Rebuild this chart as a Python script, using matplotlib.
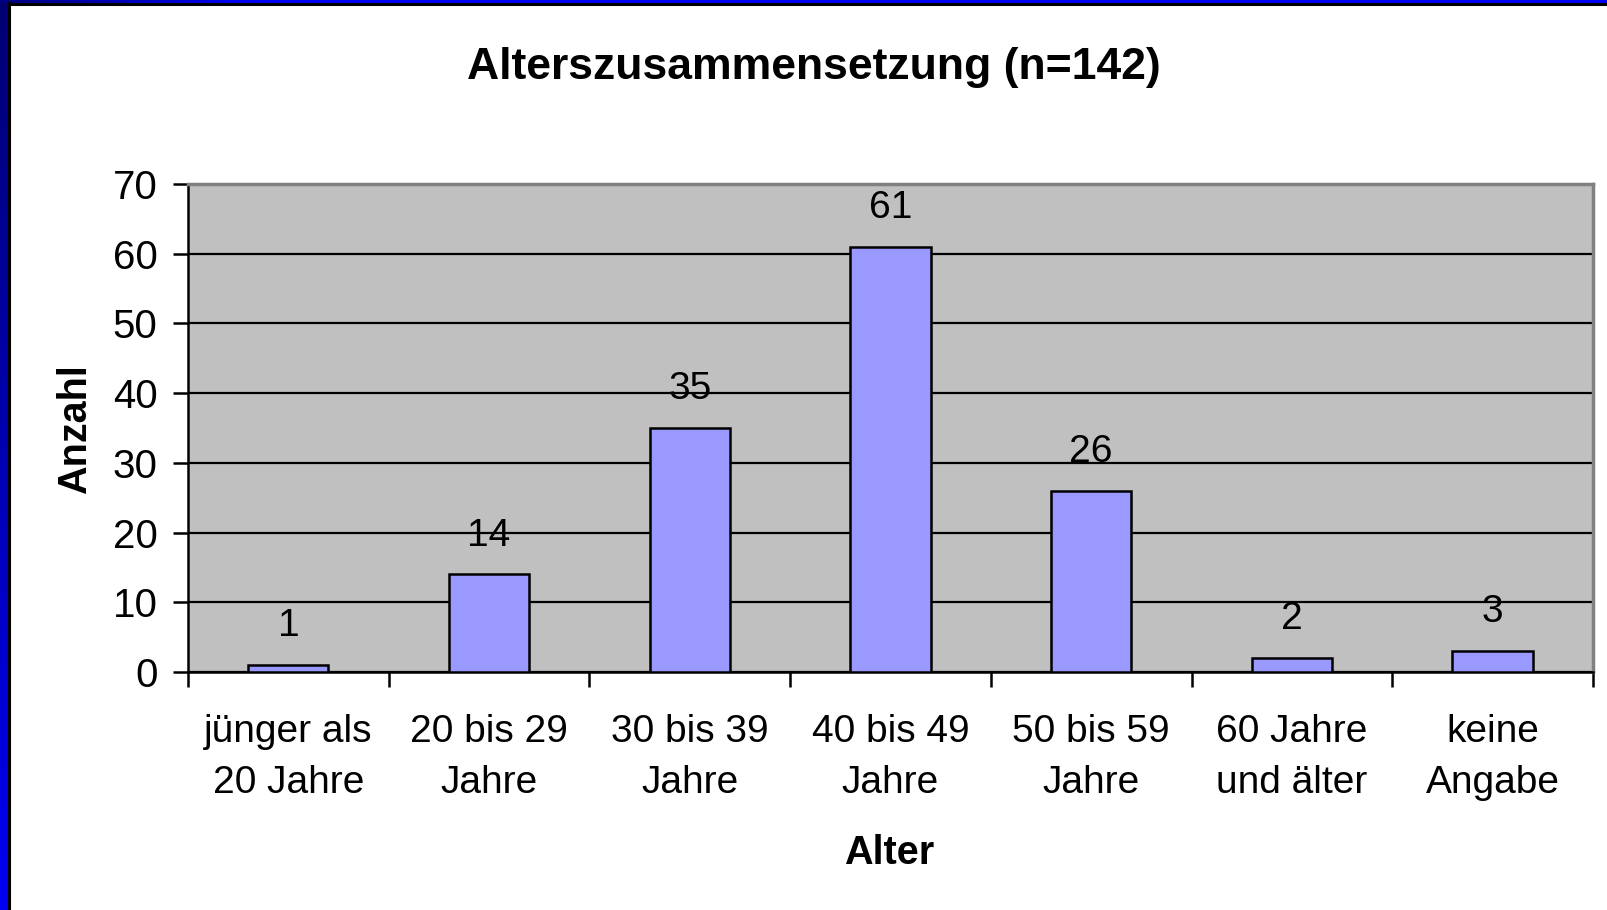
import numpy as np
import matplotlib.pyplot as plt

# Daten
kategorien = ['jünger als\n20 Jahre', '20 bis 29\nJahre', '30 bis 39\nJahre',
              '40 bis 49\nJahre', '50 bis 59\nJahre', '60 Jahre\nund älter',
              'keine\nAngabe']
anzahl = [1, 14, 35, 61, 26, 2, 3]
y_ticks = [0, 10, 20, 30, 40, 50, 60, 70]

plt.rcParams['font.family'] = ['Liberation Sans', 'DejaVu Sans']

W, H = 1608, 910
fig = plt.figure(figsize=(W / 100, H / 100), dpi=100)
fig.patch.set_facecolor('white')

# blauer Folienrahmen (links und oben)
links = fig.add_axes([0, 0, 8 / W, 1])
verlauf = np.linspace(0, 1, 256).reshape(-1, 1)
farben = np.zeros((256, 1, 3))
farben[..., 2] = 0.45 + 0.5 * verlauf
links.imshow(farben, aspect='auto', origin='upper', interpolation='bilinear')
links.axis('off')
oben = fig.add_axes([0, 1 - 3 / H, 1, 3 / H])
farben_o = np.zeros((1, 256, 3))
farben_o[..., 2] = np.clip(0.5 + 3 * np.linspace(0, 1, 256), 0, 0.95)
oben.imshow(farben_o, aspect='auto', interpolation='bilinear')
oben.axis('off')
fig.add_artist(plt.Line2D([8.5 / W, 8.5 / W], [0, 1 - 3 / H], color='black', lw=2.2,
                          transform=fig.transFigure))
fig.add_artist(plt.Line2D([8.5 / W, 1], [1 - 4 / H, 1 - 4 / H], color='black', lw=2.2,
                          transform=fig.transFigure))

ax = fig.add_axes([188 / W, (H - 672) / H, 1405 / W, 488 / H])
ax.set_facecolor('#C0C0C0')

x = np.arange(len(anzahl))
ax.bar(x, anzahl, width=0.4, color='#9999FF', edgecolor='black', linewidth=1.8, zorder=3)

for xi, v in zip(x, anzahl):
    ax.annotate(str(v), (xi, v), xytext=(0, 28), textcoords='offset points',
                ha='center', va='center', fontsize=28, zorder=4)

ax.set_xlim(-0.5, len(anzahl) - 0.5)
ax.set_ylim(0, 70)
ax.set_yticks(y_ticks)
ax.yaxis.grid(True, color='black', linewidth=1.6, zorder=1)
ax.set_axisbelow(True)

ax.set_xticks(x)
ax.set_xticklabels(kategorien, fontsize=28, linespacing=1.55)
ax.tick_params(axis='x', which='major', length=0, pad=30)
ax.set_xticks(np.arange(-0.5, len(anzahl)), minor=True)
ax.tick_params(axis='x', which='minor', length=11, width=1.8, direction='out')
ax.tick_params(axis='y', labelsize=29, length=11, width=1.8, pad=11)

for s in ['left', 'bottom']:
    ax.spines[s].set_color('black')
    ax.spines[s].set_linewidth(1.8)
for s in ['top', 'right']:
    ax.spines[s].set_color('#808080')
    ax.spines[s].set_linewidth(2.5)

fig.text(814 / W, 1 - 67 / H, 'Alterszusammensetzung (n=142)',
         fontsize=32, fontweight='bold', ha='center', va='center')
fig.text(75 / W, 1 - 429 / H, 'Anzahl', fontsize=28.5, fontweight='bold',
         rotation=90, ha='center', va='center')
fig.text(889 / W, 1 - 853 / H, 'Alter', fontsize=28.5, fontweight='bold',
         ha='center', va='center')

fig.savefig('out.png', dpi=100)
